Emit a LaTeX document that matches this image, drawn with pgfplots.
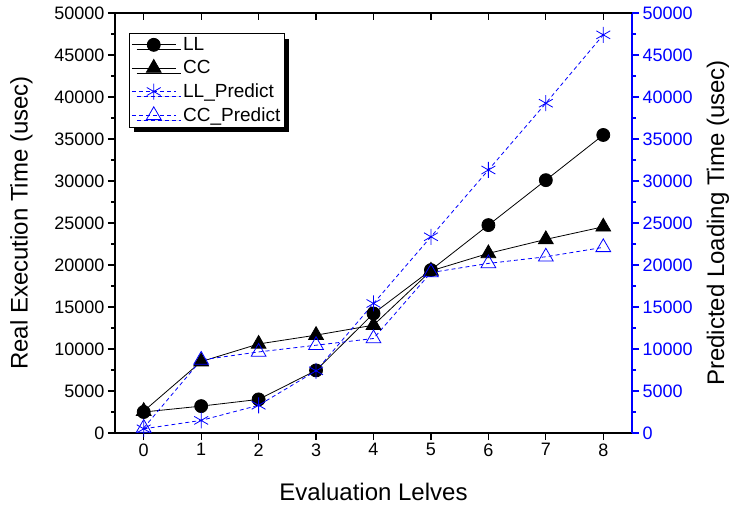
\documentclass[border=0pt]{standalone}
\usepackage{fontspec}
\setmainfont{Liberation Sans}
\usepackage{pgfplots}
\pgfplotsset{compat=1.18}
\usetikzlibrary{shadows,calc}
\definecolor{pblue}{RGB}{0,0,255}
\begin{document}
\begin{tikzpicture}
\pgfplotsset{
  common/.style={
    scale only axis, width=517pt, height=420pt,
    xmin=-0.5, xmax=8.5, ymin=0, ymax=50000,
    xtick={0,1,...,8}, ytick={0,5000,...,50000},
    minor y tick num=1,
    major tick length=7pt, minor tick length=4pt,
    scaled y ticks=false,
    /pgf/number format/assume math mode=true,
    /pgf/number format/set thousands separator={},
    tick label style={font=\fontsize{18}{20}\selectfont},
    label style={font=\fontsize{24}{28}\selectfont},
    axis line style={line width=1.2pt},
    every tick/.style={line width=1.2pt},
  },
}
\begin{axis}[common, tick align=outside, xtick pos=bottom, ytick pos=left,
  clip=false,
  xlabel={Evaluation Lelves},
  ylabel={Real Execution Time (usec)},
  xlabel style={at={(axis description cs:0.5,-0.140)}, anchor=center},
  ylabel style={at={(axis description cs:-0.181,0.5)}, anchor=center},
  legend style={at={(axis description cs:0.027,0.952)}, anchor=north west,
    draw=black, line width=0.8pt, fill=white,
    drop shadow={shadow xshift=5pt, shadow yshift=-5pt, fill=black, opacity=1},
    font=\fontsize{19}{21}\selectfont, row sep=4.5pt, inner sep=2pt},
  legend cell align=left,
  legend image code/.code={\draw[mark repeat=2,mark phase=2] plot coordinates {(0pt,0pt) (22pt,0pt) (44pt,0pt)};},
]
\coordinate (sw) at (rel axis cs:0,0);
\coordinate (ne) at (rel axis cs:1,1);
\addplot[black, line width=0.8pt, mark=*, mark size=6.5pt] coordinates {
(0,2500) (1,3200) (2,4000) (3,7450) (4,14230) (5,19400) (6,24750) (7,30100) (8,35480)};
\addlegendentry{\hspace{5pt}LL}
\addplot[black, line width=0.8pt, mark=triangle*, mark size=8.5pt] coordinates {
(0,2600) (1,8500) (2,10600) (3,11650) (4,12840) (5,19300) (6,21380) (7,23050) (8,24550)};
\addlegendentry{\hspace{5pt}CC}
\addplot[pblue, line width=0.8pt, dash pattern=on 4pt off 3pt, mark=asterisk, mark size=8pt, mark options={solid}] coordinates {
(0,500) (1,1500) (2,3300) (3,7400) (4,15420) (5,23360) (6,31310) (7,39260) (8,47400)};
\addlegendentry{\hspace{5pt}LL\_Predict}
\addplot[pblue, line width=0.8pt, dash pattern=on 4pt off 3pt, mark=triangle, mark size=8.5pt, mark options={solid, fill=white}] coordinates {
(0,600) (1,8700) (2,9650) (3,10450) (4,11250) (5,19100) (6,20190) (7,20980) (8,22100)};
\addlegendentry{\hspace{5pt}CC\_Predict}
\end{axis}
\begin{axis}[common, axis x line=none, axis y line*=right, tick align=outside,
  ylabel={Predicted Loading Time (usec)},
  ylabel style={at={(axis description cs:1.166,0.5)}, anchor=center, black},
  y axis line style={pblue},
  ytick style={pblue},
  yticklabel style={text=pblue},
]
\end{axis}
\begin{axis}[common, axis y line=none, axis x line*=top, tick align=inside,
  xticklabels={}]
\end{axis}
\pgfresetboundingbox
\path[use as bounding box] ($(sw)+(-115pt,-72pt)$) rectangle ($(ne)+(101pt,13pt)$);
\end{tikzpicture}
\end{document}
